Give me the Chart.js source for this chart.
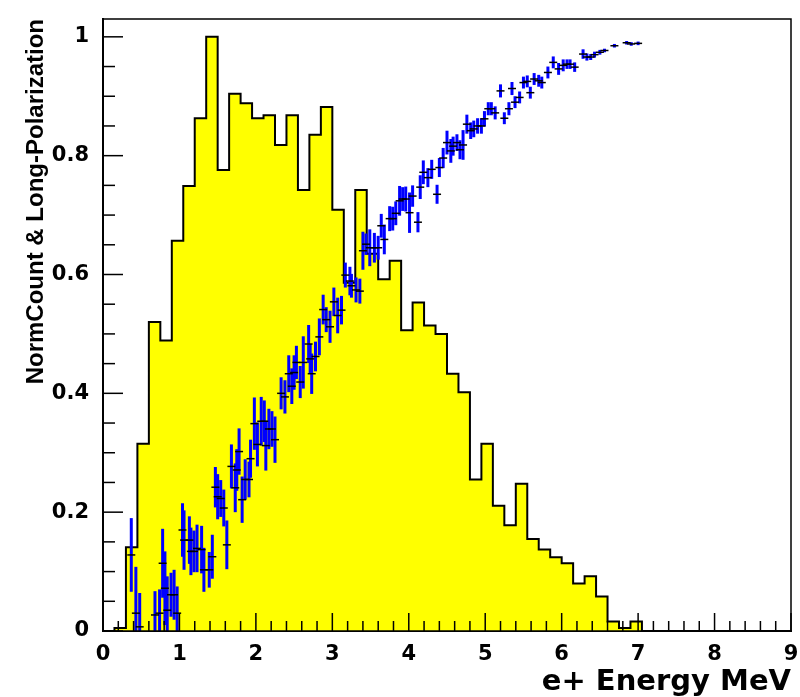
<!DOCTYPE html>
<html>
<head>
<meta charset="utf-8">
<script src="https://cdn.jsdelivr.net/npm/chart.js@4/dist/chart.umd.min.js"></script>
<style>
html, body { margin: 0; padding: 0; background: #fff; }
#wrap { width: 800px; height: 697px; }
</style>
</head>
<body>
<div id="wrap"><canvas id="chart" width="800" height="697"></canvas></div>
<script>
// histogram: left edge of each 0.15 MeV bin and its normalised count
var histLeft = [0.15, 0.30, 0.45, 0.60, 0.75, 0.90, 1.05, 1.20, 1.35, 1.50,
                1.65, 1.80, 1.95, 2.10, 2.25, 2.40, 2.55, 2.70, 2.85, 3.00,
                3.15, 3.30, 3.45, 3.60, 3.75, 3.90, 4.05, 4.20, 4.35, 4.50,
                4.65, 4.80, 4.95, 5.10, 5.25, 5.40, 5.55, 5.70, 5.85, 6.00,
                6.15, 6.30, 6.45, 6.60, 6.75, 6.90];
var histEnd = 7.05;
var histCounts = [0.005, 0.141, 0.315, 0.520, 0.489, 0.657, 0.749, 0.863, 1.000, 0.776,
                  0.904, 0.888, 0.863, 0.868, 0.818, 0.868, 0.742, 0.835, 0.882, 0.709,
                  0.586, 0.742, 0.635, 0.592, 0.623, 0.506, 0.553, 0.514, 0.500, 0.433,
                  0.402, 0.255, 0.315, 0.211, 0.178, 0.248, 0.155, 0.137, 0.124, 0.114,
                  0.080, 0.092, 0.058, 0.016, 0.005, 0.016];

// longitudinal polarization points with errors
var polX = [0.37, 0.43, 0.48, 0.68, 0.74, 0.78, 0.81, 0.84, 0.89, 0.93,
            0.97, 1.04, 1.06, 1.13, 1.15, 1.19, 1.23, 1.29, 1.32, 1.39,
            1.43, 1.47, 1.50, 1.54, 1.58, 1.62, 1.68, 1.73, 1.75, 1.78,
            1.82, 1.86, 1.91, 1.93, 1.98, 2.02, 2.07, 2.11, 2.13, 2.17,
            2.21, 2.25, 2.33, 2.38, 2.43, 2.47, 2.50, 2.53, 2.58, 2.62,
            2.69, 2.71, 2.73, 2.78, 2.83, 2.88, 2.92, 2.97, 3.02, 3.07,
            3.12, 3.17, 3.23, 3.25, 3.31, 3.36, 3.40, 3.44, 3.49, 3.55,
            3.60, 3.64, 3.68, 3.75, 3.79, 3.83, 3.88, 3.92, 3.96, 4.01,
            4.05, 4.12, 4.15, 4.19, 4.25, 4.30, 4.37, 4.40, 4.45, 4.50,
            4.55, 4.58, 4.63, 4.67, 4.71, 4.76, 4.81, 4.85, 4.90, 4.95,
            4.99, 5.04, 5.08, 5.13, 5.20, 5.25, 5.31, 5.35, 5.39, 5.45,
            5.50, 5.55, 5.59, 5.64, 5.70, 5.74, 5.82, 5.89, 5.96, 6.02,
            6.07, 6.11, 6.17, 6.28, 6.33, 6.38, 6.43, 6.50, 6.56, 6.69,
            6.85, 6.91, 7.00];
var polY = [0.128, 0.030, 0.007, 0.027, 0.030, 0.114, 0.072, 0.035, 0.061, 0.061,
            0.030, 0.170, 0.153, 0.153, 0.134, 0.134, 0.139, 0.137, 0.103, 0.103,
            0.125, 0.242, 0.226, 0.223, 0.207, 0.145, 0.277, 0.241, 0.271, 0.302,
            0.221, 0.255, 0.255, 0.290, 0.349, 0.314, 0.353, 0.353, 0.312, 0.340,
            0.340, 0.322, 0.400, 0.394, 0.433, 0.412, 0.435, 0.452, 0.419, 0.452,
            0.483, 0.458, 0.433, 0.462, 0.495, 0.541, 0.524, 0.512, 0.554, 0.531,
            0.540, 0.599, 0.589, 0.581, 0.574, 0.572, 0.640, 0.651, 0.645, 0.645,
            0.645, 0.682, 0.659, 0.694, 0.694, 0.703, 0.724, 0.727, 0.727, 0.704,
            0.732, 0.688, 0.747, 0.772, 0.763, 0.777, 0.735, 0.780, 0.796, 0.822,
            0.808, 0.816, 0.822, 0.810, 0.818, 0.853, 0.842, 0.845, 0.850, 0.850,
            0.862, 0.879, 0.879, 0.872, 0.909, 0.863, 0.879, 0.913, 0.890, 0.898,
            0.923, 0.925, 0.906, 0.929, 0.926, 0.923, 0.940, 0.957, 0.946, 0.952,
            0.954, 0.954, 0.949, 0.971, 0.966, 0.966, 0.970, 0.974, 0.977, 0.985,
            0.990, 0.988, 0.989];
var polErr = [0.062, 0.078, 0.057, 0.040, 0.040, 0.058, 0.062, 0.057, 0.037, 0.042,
              0.045, 0.045, 0.050, 0.040, 0.040, 0.035, 0.040, 0.040, 0.037, 0.030,
              0.037, 0.034, 0.038, 0.031, 0.031, 0.041, 0.037, 0.041, 0.035, 0.039,
              0.039, 0.034, 0.030, 0.032, 0.044, 0.037, 0.041, 0.035, 0.042, 0.034,
              0.030, 0.039, 0.027, 0.028, 0.031, 0.030, 0.029, 0.028, 0.027, 0.044,
              0.032, 0.025, 0.034, 0.025, 0.031, 0.025, 0.021, 0.027, 0.024, 0.030,
              0.024, 0.021, 0.024, 0.020, 0.021, 0.021, 0.032, 0.018, 0.031, 0.025,
              0.020, 0.020, 0.025, 0.021, 0.020, 0.020, 0.025, 0.020, 0.021, 0.034,
              0.018, 0.017, 0.020, 0.020, 0.016, 0.016, 0.016, 0.016, 0.017, 0.020,
              0.020, 0.016, 0.014, 0.016, 0.025, 0.016, 0.014, 0.014, 0.013, 0.013,
              0.013, 0.011, 0.011, 0.011, 0.011, 0.010, 0.011, 0.011, 0.010, 0.010,
              0.010, 0.010, 0.010, 0.010, 0.010, 0.010, 0.010, 0.010, 0.010, 0.010,
              0.008, 0.008, 0.008, 0.008, 0.006, 0.005, 0.005, 0.004, 0.003, 0.003,
              0.003, 0.003, 0.003];

var xMin = 0, xMax = 9, xStep = 1;
var yMin = 0, yMax = 1.03, yStep = 0.2;

// build stepped outline: start on the axis, end back on the axis
var histPoints = [{x: histLeft[0], y: 0}];
for (var i = 0; i < histLeft.length; i++) {
    histPoints.push({x: histLeft[i], y: histCounts[i]});
}
histPoints.push({x: histEnd, y: 0});

var polPoints = [];
for (var k = 0; k < polX.length; k++) {
    polPoints.push({x: polX[k], y: polY[k], err: polErr[k]});
}

// vertical error bars, drawn just before the markers
var errorBars = {
    id: 'errorBars',
    beforeDatasetDraw: function (chart, args) {
        if (args.index !== 1) {
            return;
        }
        var ctx = chart.ctx;
        var xs = chart.scales.x, ys = chart.scales.y;
        var a = chart.chartArea;
        ctx.save();
        ctx.beginPath();
        ctx.rect(a.left, a.top, a.right - a.left, a.bottom - a.top);
        ctx.clip();
        ctx.strokeStyle = '#0000ff';
        ctx.lineWidth = 3;
        for (var i = 0; i < polPoints.length; i++) {
            var p = polPoints[i];
            var px = xs.getPixelForValue(p.x);
            ctx.beginPath();
            ctx.moveTo(px, ys.getPixelForValue(p.y - p.err));
            ctx.lineTo(px, ys.getPixelForValue(p.y + p.err));
            ctx.stroke();
        }
        ctx.restore();
    }
};

// ROOT style frame with inward major/minor ticks
var tickMarks = {
    id: 'tickMarks',
    afterDatasetsDraw: function (chart) {
        var ctx = chart.ctx;
        var xs = chart.scales.x, ys = chart.scales.y;
        var a = chart.chartArea;
        ctx.save();
        ctx.strokeStyle = '#000';
        ctx.lineWidth = 1.5;
        ctx.strokeRect(a.left, a.top, a.right - a.left, a.bottom - a.top);
        var i, px, py, len;
        for (i = 0; i <= 45; i++) {
            px = xs.getPixelForValue(i * 0.2);
            len = (i % 5 === 0) ? 18 : 10;
            ctx.beginPath();
            ctx.moveTo(px, a.bottom);
            ctx.lineTo(px, a.bottom - len);
            ctx.stroke();
        }
        for (i = 0; i <= 20; i++) {
            py = ys.getPixelForValue(i * 0.05);
            len = (i % 4 === 0) ? 20 : 12;
            ctx.beginPath();
            ctx.moveTo(a.left, py);
            ctx.lineTo(a.left + len, py);
            ctx.stroke();
        }
        ctx.restore();
    }
};

var tickFont = {family: "'DejaVu Sans', sans-serif", size: 21, weight: 'bold'};

var chart = new Chart(document.getElementById('chart'), {
    data: {
        datasets: [
            {
                type: 'line',
                label: 'NormCount',
                data: histPoints,
                stepped: 'before',
                fill: 'origin',
                backgroundColor: '#ffff00',
                borderColor: '#000000',
                borderWidth: 2,
                pointRadius: 0,
                order: 2
            },
            {
                type: 'scatter',
                label: 'Long-Polarization',
                data: polPoints,
                pointStyle: 'line',
                pointRadius: 4,
                borderColor: '#000000',
                borderWidth: 1.5,
                order: 1
            }
        ]
    },
    options: {
        responsive: false,
        animation: false,
        devicePixelRatio: 1,
        layout: {
            padding: {left: 0, right: 9, top: 19, bottom: 0}
        },
        plugins: {
            legend: {display: false},
            tooltip: {enabled: false}
        },
        scales: {
            x: {
                type: 'linear',
                min: xMin,
                max: xMax,
                grid: {display: false},
                border: {display: true, color: '#000', width: 2},
                ticks: {
                    stepSize: xStep,
                    color: '#000',
                    font: tickFont,
                    padding: 3,
                    maxRotation: 0
                },
                title: {
                    display: true,
                    text: 'e+ Energy MeV',
                    align: 'end',
                    color: '#000',
                    font: {family: "'DejaVu Sans', sans-serif", size: 29, weight: 'bold', lineHeight: 1},
                    padding: {top: 0, bottom: 0}
                },
                afterFit: function (scale) {
                    scale.height = 66;
                    scale.paddingLeft = 0;
                    scale.paddingRight = 0;
                }
            },
            y: {
                type: 'linear',
                min: yMin,
                max: yMax,
                grid: {display: false},
                border: {display: true, color: '#000', width: 2},
                ticks: {
                    stepSize: yStep,
                    includeBounds: false,
                    color: '#000',
                    font: tickFont,
                    padding: 6,
                    callback: function (value) {
                        return String(Number(value.toFixed(2)));
                    }
                },
                title: {
                    display: true,
                    text: 'NormCount & Long-Polarization',
                    align: 'end',
                    color: '#000',
                    font: {family: "'Liberation Sans', Arial, sans-serif", size: 24, weight: 'bold', lineHeight: 1},
                    padding: {top: 24, bottom: 0}
                },
                afterFit: function (scale) {
                    scale.width = 103;
                    scale.paddingTop = 0;
                    scale.paddingBottom = 0;
                }
            }
        }
    },
    plugins: [errorBars, tickMarks]
});
</script>
</body>
</html>
